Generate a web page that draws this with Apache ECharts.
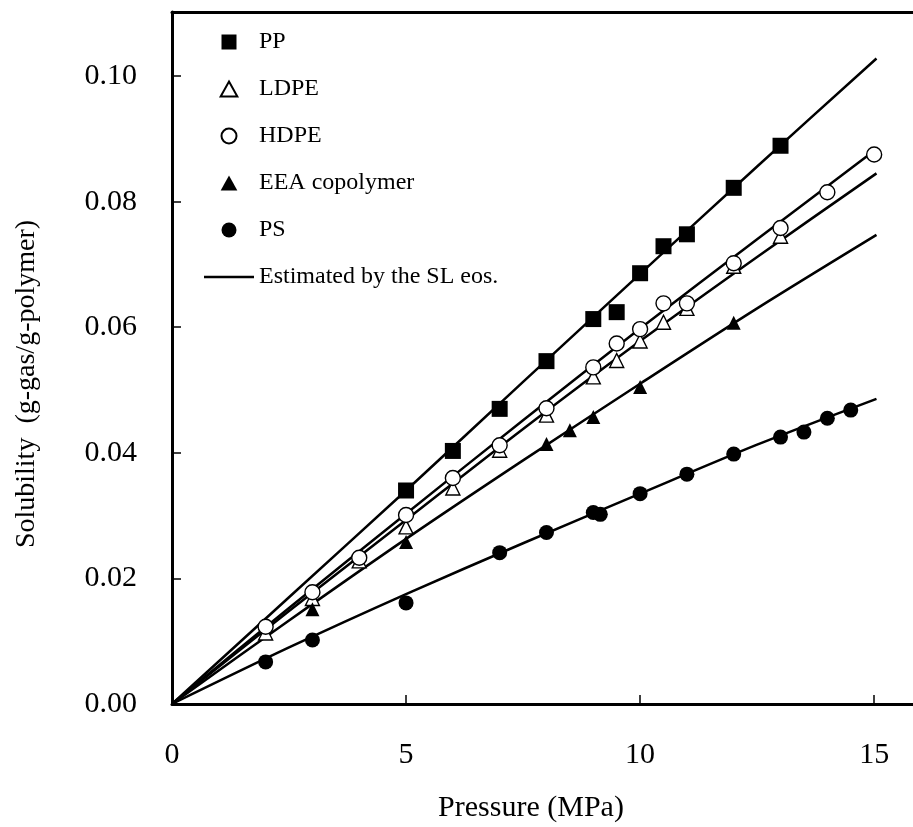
<!DOCTYPE html>
<html>
<head>
<meta charset="utf-8">
<script src="https://cdn.jsdelivr.net/npm/echarts@6/dist/echarts.min.js"></script>
<style>
  html, body { margin: 0; padding: 0; background: #fff; }
  #chart { width: 913px; height: 827px; }
</style>
</head>
<body>
<div id="chart"></div>
<script>
// ---- data ----
var ppP   = [5, 6, 7, 8, 9, 9.5, 10, 10.5, 11, 12, 13];
var ppS   = [0.0340, 0.0403, 0.0470, 0.0546, 0.0613, 0.0624, 0.0686, 0.0729, 0.0748, 0.0822, 0.0889];

var ldpeP = [2, 3, 4, 5, 6, 7, 8, 9, 9.5, 10, 10.5, 11, 12, 13];
var ldpeS = [0.0113, 0.0168, 0.0228, 0.0282, 0.0344, 0.0404, 0.0460, 0.0521, 0.0547, 0.0578, 0.0608, 0.0630, 0.0697, 0.0745];

var hdpeP = [2, 3, 4, 5, 6, 7, 8, 9, 9.5, 10, 10.5, 11, 12, 13, 14, 15];
var hdpeS = [0.0123, 0.0178, 0.0233, 0.0301, 0.0360, 0.0412, 0.0471, 0.0536, 0.0574, 0.0597, 0.0638, 0.0638, 0.0702, 0.0758, 0.0815, 0.0875];

var eeaP  = [3, 5, 8, 8.5, 9, 10, 12];
var eeaS  = [0.0151, 0.0258, 0.0414, 0.0436, 0.0457, 0.0505, 0.0607];

var psP   = [2, 3, 5, 7, 8, 9, 9.15, 10, 11, 12, 13, 13.5, 14, 14.5];
var psS   = [0.0067, 0.0102, 0.0161, 0.0241, 0.0273, 0.0305, 0.0302, 0.0335, 0.0366, 0.0398, 0.0425, 0.0433, 0.0455, 0.0468];

// SL eos estimated curves
var lineP    = [0, 2.5, 5, 7.5, 10, 12.5, 15.05];
var ppLine   = [0, 0.0170, 0.0340, 0.0513, 0.0685, 0.0856, 0.1028];
var hdpeLine = [0, 0.0153, 0.0303, 0.0452, 0.0598, 0.0740, 0.0884];
var ldpeLine = [0, 0.0148, 0.0293, 0.0438, 0.0578, 0.0712, 0.0845];
var eeaLine  = [0, 0.0133, 0.0263, 0.0388, 0.0510, 0.0630, 0.0747];
var psLine   = [0, 0.0090, 0.0175, 0.0256, 0.0335, 0.0413, 0.0486];

var xTicks = [0, 5, 10, 15];
var yTicks = [0, 0.02, 0.04, 0.06, 0.08, 0.10];

var legendNames = ['PP', 'LDPE', 'HDPE', 'EEA copolymer', 'PS', 'Estimated by the SL eos.'];
var xTitle = 'Pressure (MPa)';
var yTitle = 'Solubility  (g-gas/g-polymer)';

// ---- build ----
function zip(a, b) { return a.map(function (v, i) { return [v, b[i]]; }); }
var FONT = "'Liberation Serif', 'Times New Roman', serif";
var ICON_SQ  = 'path://M0,0L10,0L10,10L0,10Z';
var ICON_TRI = 'path://M5,0L10,9L0,9Z';
var ICON_CIR = 'circle';
var ICON_LINE = 'path://M0,0L50,0L50,2.5L0,2.5Z';

function lineSeries(ys) {
  return {
    type: 'line', name: legendNames[5], data: zip(lineP, ys),
    symbol: 'none', smooth: 0.3, z: 2,
    lineStyle: { color: '#000', width: 2.5 }, itemStyle: { color: '#000' },
    silent: true
  };
}
function scatter(name, xs, ys, symbol, filled, size) {
  return {
    type: 'scatter', name: name, data: zip(xs, ys), symbol: symbol, symbolSize: size, z: 3,
    itemStyle: filled ? { color: '#000', opacity: 1 }
                      : { color: '#fff', borderColor: '#000', borderWidth: 1.4, opacity: 1 }
  };
}

var chart = echarts.init(document.getElementById('chart'), null, { renderer: 'canvas' });
chart.setOption({
  animation: false,
  backgroundColor: '#fff',
  grid: { left: 172, right: 0, top: 12, bottom: 123 },
  legend: {
    data: [
      { name: legendNames[0], icon: ICON_SQ },
      { name: legendNames[1], icon: ICON_TRI },
      { name: legendNames[2], icon: ICON_CIR },
      { name: legendNames[3], icon: ICON_TRI },
      { name: legendNames[4], icon: ICON_CIR },
      { name: legendNames[5], icon: ICON_LINE }
    ],
    orient: 'vertical',
    left: 199, top: 25,
    itemWidth: 50, itemHeight: 15, itemGap: 23,
    symbolKeepAspect: true,
    textStyle: { fontFamily: FONT, fontSize: 24, color: '#000' },
    selectedMode: false
  },
  xAxis: [{
    type: 'value', min: 0, max: 15.83, interval: 5,
    axisLine: { show: true, lineStyle: { color: '#000', width: 3 } },
    axisTick: { show: true, inside: true, length: 9, lineStyle: { color: '#000', width: 1.5 },
      customValues: xTicks },
    axisLabel: { margin: 36, fontFamily: FONT, fontSize: 30, color: '#000',
      customValues: xTicks },
    splitLine: { show: false }
  }, {
    type: 'value', position: 'top', min: 0, max: 15.83,
    axisLine: { show: true, onZero: false, lineStyle: { color: '#000', width: 3 } },
    axisTick: { show: false }, axisLabel: { show: false }, splitLine: { show: false }
  }],
  yAxis: {
    type: 'value', min: 0, max: 0.1102, interval: 0.02,
    axisLine: { show: true, lineStyle: { color: '#000', width: 3 } },
    axisTick: { show: true, inside: true, length: 9, lineStyle: { color: '#000', width: 1.5 },
      customValues: yTicks },
    axisLabel: { margin: 35, fontFamily: FONT, fontSize: 30, color: '#000',
      customValues: yTicks,
      formatter: function (v) { return v.toFixed(2); } },
    splitLine: { show: false }
  },
  graphic: [
    { type: 'text', x: 531, y: 808, style: { text: xTitle, font: '30px ' + FONT, fill: '#000',
      align: 'center', verticalAlign: 'middle' } },
    { type: 'text', x: 27, y: 384, rotation: Math.PI / 2, style: { text: yTitle, font: '28px ' + FONT,
      fill: '#000', align: 'center', verticalAlign: 'middle' } }
  ],
  series: [
    lineSeries(ppLine), lineSeries(hdpeLine), lineSeries(ldpeLine), lineSeries(eeaLine), lineSeries(psLine),
    scatter(legendNames[0], ppP, ppS, 'rect', true, 16),
    scatter(legendNames[1], ldpeP, ldpeS, 'triangle', false, 14),
    scatter(legendNames[2], hdpeP, hdpeS, 'circle', false, 15),
    scatter(legendNames[3], eeaP, eeaS, 'triangle', true, 14),
    scatter(legendNames[4], psP, psS, 'circle', true, 15)
  ]
});
</script>
</body>
</html>
